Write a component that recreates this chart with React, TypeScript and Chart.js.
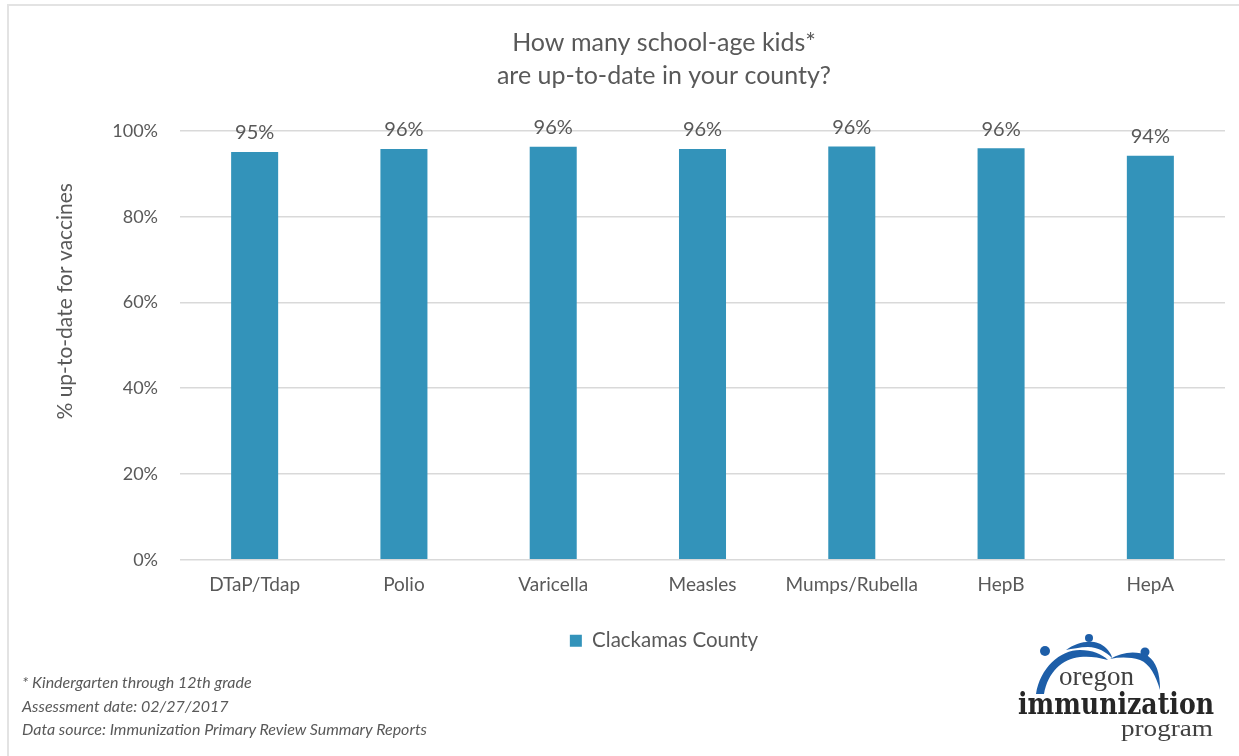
import React, { useEffect, useRef } from "react";
import { Chart, registerables } from "chart.js";

Chart.register(...registerables);

const categories = ["DTaP/Tdap", "Polio", "Varicella", "Measles", "Mumps/Rubella", "HepB", "HepA"];
const values = [95.1, 95.8, 96.3, 95.8, 96.4, 96.0, 94.2];
const seriesLabel = "Clackamas County";
const titleLines = ["How many school-age kids*", "are up-to-date in your county?"];
const yAxisTitle = "% up-to-date for vaccines";
const footnotes = [
  "* Kindergarten through 12th grade",
  "Assessment date: 02/27/2017",
  "Data source: Immunization Primary Review Summary Reports",
];

const FONT = "Lato, 'Open Sans', sans-serif";
const TEXT = "#595959";
const BAR = "#3393BA";

export default function App() {
  const ref = useRef<HTMLCanvasElement | null>(null);

  useEffect(() => {
    if (!ref.current) return;
    const labelPlugin = {
      id: "valueLabels",
      afterDatasetsDraw(chart: any) {
        const ctx = chart.ctx;
        const meta = chart.getDatasetMeta(0);
        ctx.save();
        ctx.font = `20px ${FONT}`;
        ctx.fillStyle = TEXT;
        ctx.textAlign = "center";
        ctx.textBaseline = "middle";
        meta.data.forEach((bar: any, i: number) => {
          const v = chart.data.datasets[0].data[i] as number;
          ctx.fillText(Math.round(v) + "%", bar.x, bar.y - 19);
        });
        // y axis title
        const ca = chart.chartArea;
        ctx.translate(65, (ca.top + ca.bottom) / 2 - 44);
        ctx.rotate(-Math.PI / 2);
        ctx.font = `21px ${FONT}`;
        ctx.fillText(yAxisTitle, 0, 0);
        ctx.restore();
      },
    };
    const chart = new Chart(ref.current, {
      type: "bar",
      data: {
        labels: categories,
        datasets: [
          {
            label: seriesLabel,
            data: values,
            backgroundColor: BAR,
            borderWidth: 0,
            barPercentage: 0.315,
            categoryPercentage: 1,
          },
        ],
      },
      options: {
        responsive: false,
        animation: false,
        layout: { padding: { left: 103, right: 14, top: 0, bottom: 19 } },
        plugins: {
          title: {
            display: true,
            text: titleLines,
            color: TEXT,
            font: { family: FONT, size: 25, weight: "normal", lineHeight: 1.32 },
            padding: { top: 26, bottom: 39 },
          },
          legend: {
            display: true,
            position: "bottom",
            labels: {
              color: TEXT,
              font: { family: FONT, size: 20.5 },
              boxWidth: 12,
              boxHeight: 12,
              padding: 28,
            },
          },
          tooltip: { enabled: false },
        },
        scales: {
          x: {
            grid: { display: false },
            border: { display: false },
            ticks: { color: TEXT, font: { family: FONT, size: 19 }, padding: 6 },
          },
          y: {
            min: 0,
            max: 100,
            afterFit(scale: any) {
              scale.width = 77;
            },
            grid: { color: "#d9d9d9", drawTicks: false, lineWidth: 1.5 },
            border: { display: false },
            ticks: {
              stepSize: 20,
              color: TEXT,
              font: { family: FONT, size: 18 },
              padding: 22,
              callback: (v: any) => v + "%",
            },
          },
        },
      },
      plugins: [labelPlugin],
    });
    return () => chart.destroy();
  }, []);

  return (
    <div
      style={{
        position: "absolute",
        left: 0,
        top: 0,
        width: 1239,
        height: 756,
        overflow: "hidden",
        background: "#fff",
      }}
    >
      <div
        style={{
          position: "absolute",
          left: 7,
          top: 4,
          width: 1232,
          height: 752,
          borderTop: "2px solid #e3e3e3",
          borderLeft: "2px solid #e3e3e3",
        }}
      />
      <canvas ref={ref} width={1239} height={680} style={{ position: "absolute", left: 0, top: 0 }} />
      <div
        style={{
          position: "absolute",
          left: 22,
          top: 670,
          fontFamily: FONT,
          fontStyle: "italic",
          fontSize: 16,
          lineHeight: "23.5px",
          color: TEXT,
        }}
      >
        {footnotes.map((f) => (
          <div key={f}>{f}</div>
        ))}
      </div>
      <svg width={240} height={130} style={{ position: "absolute", left: 1000, top: 625 }} viewBox="1000 625 240 130">
        <path
          d="M1036 694 C1040 668 1060 650 1080 650 C1092 650 1102 654 1108 660 C1098 657 1088 656 1080 657 C1062 659 1048 672 1044 694 Z"
          fill="#1d5ea8"
        />
        <circle cx={1045} cy={651} r={5} fill="#1d5ea8" />
        <path
          d="M1066 650 C1078 641 1096 638 1106 648 C1110 652 1112 656 1112 658 C1106 652 1098 647 1088 647 C1080 647 1072 649 1066 650 Z"
          fill="#1d5ea8"
        />
        <circle cx={1089} cy={638} r={4} fill="#1d5ea8" />
        <path
          d="M1110 659 C1122 652 1136 650 1148 656 C1156 662 1160 672 1160 690 C1156 676 1150 664 1140 660 C1130 657 1120 657 1110 659 Z"
          fill="#1d5ea8"
        />
        <circle cx={1145} cy={652} r={4.5} fill="#1d5ea8" />
        <text
          x={1059}
          y={685}
          fontFamily="'Liberation Serif', serif"
          fontSize={27}
          fill="#404040"
          textLength={75}
          lengthAdjust="spacingAndGlyphs"
        >
          oregon
        </text>
        <text
          x={1018}
          y={714}
          fontFamily="'DejaVu Serif', serif"
          fontWeight="bold"
          fontSize={30}
          fill="#262626"
          textLength={196}
          lengthAdjust="spacingAndGlyphs"
        >
          immunization
        </text>
        <text
          x={1121}
          y={736}
          fontFamily="'Liberation Serif', serif"
          fontSize={24}
          fill="#404040"
          textLength={92}
          lengthAdjust="spacingAndGlyphs"
        >
          program
        </text>
      </svg>
    </div>
  );
}
